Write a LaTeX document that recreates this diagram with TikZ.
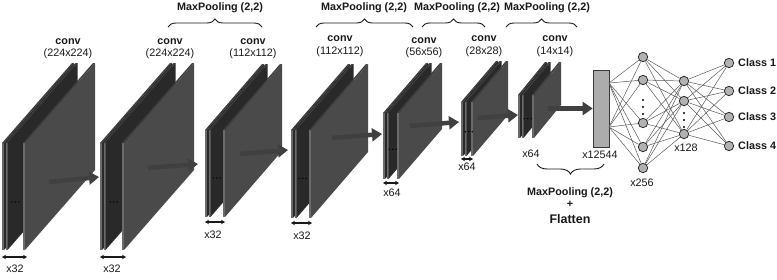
\documentclass[tikz,border=0pt]{standalone}
\usepackage{fontspec}
\setmainfont{Liberation Sans}
\usetikzlibrary{arrows.meta,decorations.pathreplacing}
\definecolor{stackface}{gray}{0.16}
\definecolor{stacktop}{gray}{0.24}
\definecolor{lastface}{gray}{0.29}
\definecolor{platedge}{gray}{0.42}
\definecolor{arrowgray}{gray}{0.25}
\definecolor{inkgray}{gray}{0.1}

\begin{document}
\begin{tikzpicture}[x=1pt,y=-1pt,
  lbl/.style={font=\fontsize{10.8}{12.5}\selectfont,text=inkgray,align=center,inner sep=0pt},
  boldlbl/.style={lbl,font=\fontsize{10.8}{12.5}\selectfont\bfseries},
  bigarrow/.style={arrowgray,line width=4.5pt,-{Triangle[length=10pt,width=13pt]}},
  sizearrow/.style={inkgray,line width=1.1pt,{Stealth[length=4pt,width=4.5pt]}-{Stealth[length=4pt,width=4.5pt]}},
  bracket/.style={inkgray,line width=0.9pt,decorate,decoration={brace,amplitude=8pt}},
  neuron/.style={circle,draw=gray!35!black,fill=gray!60,line width=0.8pt,minimum size=9.4pt,inner sep=0pt},
  link/.style={gray!70!black,line width=0.5pt}]
\useasboundingbox (0,0) rectangle (777,279);

% conv blocks: stack left, last plate, bottom, height, width, rise
\foreach \xs/\xf/\yb/\hh/\ww/\rr in {2/23/250/107/70/80, 100/122/250/107/70/80,
    205/223/217/87/57/66, 291/309/218/88/57/66, 383/397/179/66/43/50,
    461/471/156/54/35/41, 518/532/138/43/27/33}{
  \foreach \x/\col in {\xs/stackface, \xs+3.5/stackface, \xf/lastface}{
    \fill[platedge] (\x,\yb) rectangle ++(2,-\hh);
    \fill[stacktop] (\x,\yb-\hh) -- ++(2,0) -- ++(\ww,-\rr) -- ++(-2,0) -- cycle;
    \fill[\col] (\x+2,\yb) -- ++(0,-\hh) -- ++(\ww,-\rr) -- ++(0,\hh) -- cycle;
  }
  \foreach \k in {-3.5,0,3.5}
    \fill[black] ({(\xs+5.5+\xf)/2+\k},\yb-0.45*\hh) circle (0.8);
}

\foreach \cx/\cy/\sz [count=\i] in {68/48.5/224x224, 170/48.5/224x224, 253/48.5/112x112,
    340/46/112x112, 424/47.5/56x56, 484/46/28x28, 555/46/14x14}
  \node[lbl] (conv\i) at (\cx,\cy) {\textbf{conv}\\(\sz)};

% filter counts
\foreach \ax/\bx/\ay/\lx/\ly/\n [count=\i] in {2/27/257/15/269/32, 100/126/257/112/269/32,
    205/225/222/213/235/32, 291/312/223/302/236/32, 383/399/183/392/193/64, 461/473/159/467/167/64}{
  \coordinate (wl\i) at (\ax,\ay);
  \coordinate (wr\i) at (\bx,\ay);
  \draw[sizearrow] (wl\i) -- (wr\i);
  \node[lbl] (cnt\i) at (\lx,\ly) {x\n};
}
\node[lbl] (cnt7) at (531,154) {x64};

% flatten
\node[draw=gray!45!black,fill=gray!65,line width=0.6pt,minimum width=16pt,minimum height=77pt,inner sep=0pt] (flat) at (601,108.5) {};
\node[lbl] (flatcnt) at (600,155) {x12544};

\foreach \sx/\sy/\ex/\ey [count=\i] in {49/182/99/177, 148/168/198/164, 240/154/288/150,
    332/138/382/134, 410/126/459/122, 478/118/518/115}{
  \coordinate (from\i) at (\sx,\sy);
  \coordinate (to\i) at (\ex,\ey);
  \draw[bigarrow] (from\i) -- (to\i);
}
\coordinate (from7) at (548,108.5);
\draw[bigarrow] (from7) -- (flat.west);

% pooling braces
\foreach \bl/\br/\tx [count=\i] in {168/262/220, 316/413/364, 422/485/457, 506/577/547}{
  \coordinate (mpl\i) at (\bl,27);
  \coordinate (mpr\i) at (\br,27);
  \draw[bracket] (mpl\i) -- (mpr\i);
  \node[boldlbl] (mp\i) at (\tx,8) {MaxPooling (2,2)};
}
\coordinate (fll) at (537,164);
\coordinate (flr) at (604,164);
\draw[bracket,decoration={amplitude=10pt}] (flr) -- (fll);
\node[boldlbl] (mpflat) at (570,193) {MaxPooling (2,2)};
\node[boldlbl] (plus) at (570,204.5) {+};
\node[lbl,font=\fontsize{12.5}{14}\selectfont\bfseries] (flatten) at (570,219) {Flatten};

% dense layers
\foreach \y [count=\i] in {57,80,123,147,168}
  \node[neuron] (h\i) at (643,\y) {};
\foreach \y [count=\i] in {81,101,134}
  \node[neuron] (g\i) at (684,\y) {};
\foreach \y [count=\i] in {63,91,117,146}{
  \node[neuron] (o\i) at (729,\y) {};
  \node[boldlbl,anchor=west] (cls\i) at (738,\y) {Class \i};
}
\foreach \y in {100,107,114}
  \fill[black] (643,\y) circle (1.1);
\foreach \y in {113,120,127}
  \fill[black] (684,\y) circle (1.1);
\node[lbl] (cnt256) at (642,183) {x256};
\node[lbl] (cnt128) at (686,148) {x128};

\coordinate (fu) at (609,83);
\coordinate (fd) at (609,127);
\foreach \i in {1,...,5}{
  \draw[link] (fu) -- (h\i);
  \draw[link] (fd) -- (h\i);
  \foreach \j in {1,2,3}
    \draw[link] (h\i) -- (g\j);
}
\foreach \j in {1,2,3}
  \foreach \k in {1,...,4}
    \draw[link] (g\j) -- (o\k);
\end{tikzpicture}
\end{document}
